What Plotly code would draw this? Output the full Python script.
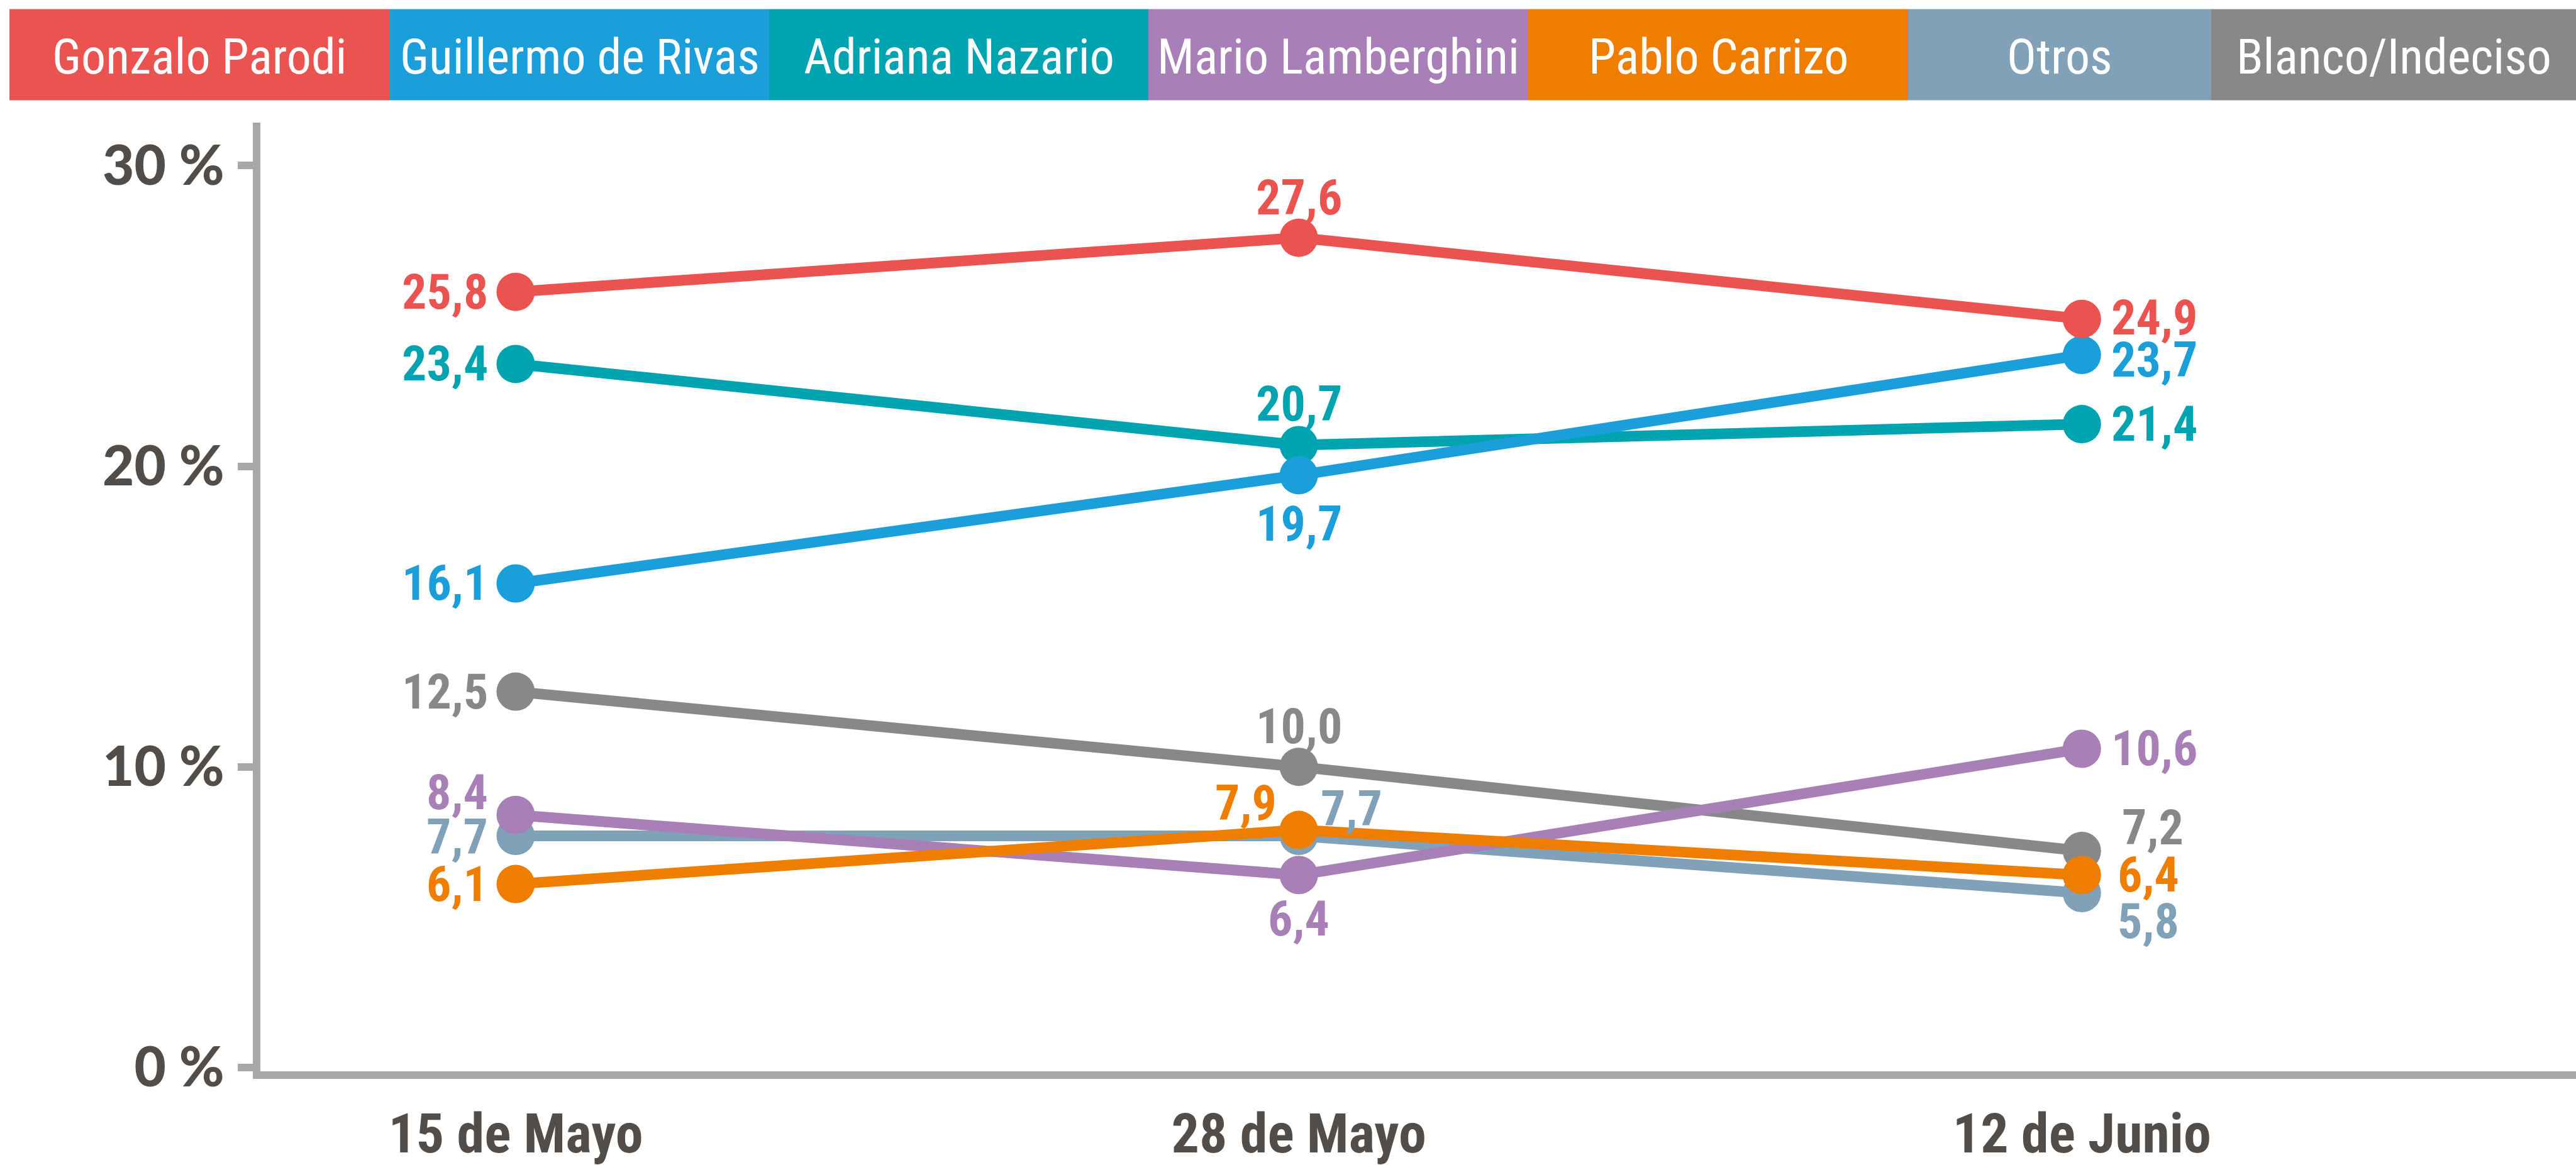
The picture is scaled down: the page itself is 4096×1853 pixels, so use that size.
import plotly.graph_objects as go

# ---------------- data ----------------
fechas = ["15 de Mayo", "28 de Mayo", "12 de Junio"]
candidatos = ["Gonzalo Parodi", "Guillermo de Rivas", "Adriana Nazario",
              "Mario Lamberghini", "Pablo Carrizo", "Otros", "Blanco/Indeciso"]
gonzalo_parodi = [25.8, 27.6, 24.9]
guillermo_de_rivas = [16.1, 19.7, 23.7]
adriana_nazario = [23.4, 20.7, 21.4]
mario_lamberghini = [8.4, 6.4, 10.6]
pablo_carrizo = [6.1, 7.9, 6.4]
otros = [7.7, 7.7, 5.8]
blanco_indeciso = [12.5, 10.0, 7.2]
y_tick_vals = [0, 10, 20, 30]
y_tick_text = ["0 %", "10 %", "20 %", "30 %"]

series = {
    "Gonzalo Parodi": gonzalo_parodi,
    "Guillermo de Rivas": guillermo_de_rivas,
    "Adriana Nazario": adriana_nazario,
    "Mario Lamberghini": mario_lamberghini,
    "Pablo Carrizo": pablo_carrizo,
    "Otros": otros,
    "Blanco/Indeciso": blanco_indeciso,
}

# ---------------- styles ----------------
colors = {
    "Gonzalo Parodi": "#EA534F",
    "Guillermo de Rivas": "#1A9FDB",
    "Adriana Nazario": "#00A4B1",
    "Mario Lamberghini": "#A880B7",
    "Pablo Carrizo": "#EF7D00",
    "Otros": "#81A1B8",
    "Blanco/Indeciso": "#888888",
}
draw_order = ["Otros", "Blanco/Indeciso", "Mario Lamberghini", "Pablo Carrizo",
              "Adriana Nazario", "Guillermo de Rivas", "Gonzalo Parodi"]

# label placement per series / point: (xanchor, xshift, yshift)
placement = {
    "Gonzalo Parodi": [("right", -42, 0), ("center", 0, 64), ("left", 45, 2)],
    "Guillermo de Rivas": [("right", -42, 0), ("center", 0, -78), ("left", 45, -8)],
    "Adriana Nazario": [("right", -42, 0), ("center", 0, 66), ("left", 45, 0)],
    "Mario Lamberghini": [("right", -42, 36), ("center", 0, -70), ("left", 45, 0)],
    "Pablo Carrizo": [("right", -42, 0), ("right", -33, 43), ("left", 55, 0)],
    "Otros": [("right", -42, -2), ("left", 33, 43), ("left", 55, -45)],
    "Blanco/Indeciso": [("right", -42, 0), ("center", 0, 64), ("left", 62, 37)],
}

NARROW = "Liberation Sans Narrow, Arial Narrow, Roboto Condensed, sans-serif"
TICK_COLOR = "#524D49"
AXIS_COLOR = "#A8A8A7"

W, H = 4096, 1853
L, R, T, B = 414, 4096, 195, 1704  # plot area in px

fig = go.Figure()
for name in draw_order:
    fig.add_trace(go.Scatter(
        x=fechas, y=series[name], mode="lines+markers", name=name,
        line=dict(color=colors[name], width=17),
        marker=dict(color=colors[name], size=61),
        showlegend=False, hoverinfo="skip",
    ))

annotations = []
for name in candidatos:
    for i, (f, v) in enumerate(zip(fechas, series[name])):
        xa, xs, ys = placement[name][i]
        annotations.append(dict(
            x=f, y=v, xref="x", yref="y", showarrow=False,
            text=f"{v:.1f}".replace(".", ","),
            xanchor=xa, yanchor="middle", xshift=xs, yshift=ys,
            font=dict(family=NARROW, size=78, color=colors[name], weight="bold"),
        ))

# legend bar (boxes with white labels)
def px_x(p):
    return (p - L) / (R - L)

def px_y(p):
    return (B - p) / (B - T)

box_edges = [15, 620, 1223, 1826, 2430, 3034, 3516, 4096]
box_top, box_bottom = 14.5, 159.5
shapes = []
for i, name in enumerate(candidatos):
    x0, x1 = box_edges[i], box_edges[i + 1]
    shapes.append(dict(
        type="rect", xref="paper", yref="paper",
        x0=px_x(x0), x1=px_x(x1), y0=px_y(box_bottom), y1=px_y(box_top),
        fillcolor=colors[name], line=dict(width=0), layer="above",
    ))
    annotations.append(dict(
        x=px_x((x0 + x1) / 2), y=px_y((box_top + box_bottom) / 2 + 3),
        xref="paper", yref="paper", xanchor="center", yanchor="middle",
        showarrow=False, text=name,
        font=dict(family=NARROW, size=78, color="white"),
    ))

fig.update_layout(
    template="none",
    width=W, height=H,
    margin=dict(l=L, r=W - R, t=T, b=H - B, pad=0, autoexpand=False),
    paper_bgcolor="white", plot_bgcolor="white",
    annotations=annotations, shapes=shapes,
    showlegend=False,
)
fig.update_xaxes(
    type="category", range=[-0.326, 2.631], automargin=False,
    showline=True, linecolor=AXIS_COLOR, linewidth=12,
    showgrid=False, zeroline=False, ticks="",
    tickfont=dict(family=NARROW, size=88, color=TICK_COLOR, weight="bold"),
    ticklabelstandoff=11,
)
fig.update_yaxes(
    range=[-0.13, 31.43], automargin=False,
    tickvals=y_tick_vals, ticktext=y_tick_text,
    showline=True, linecolor=AXIS_COLOR, linewidth=12,
    showgrid=False, zeroline=False,
    ticks="outside", ticklen=24, tickwidth=12, tickcolor=AXIS_COLOR,
    tickfont=dict(family="Lato", size=87, color=TICK_COLOR, weight=900),
    ticklabelstandoff=4,
)

fig.write_html(
    "out.html",
    config={"displayModeBar": False},
    post_script="document.body.style.margin='0';document.body.style.overflow='hidden';",
)
